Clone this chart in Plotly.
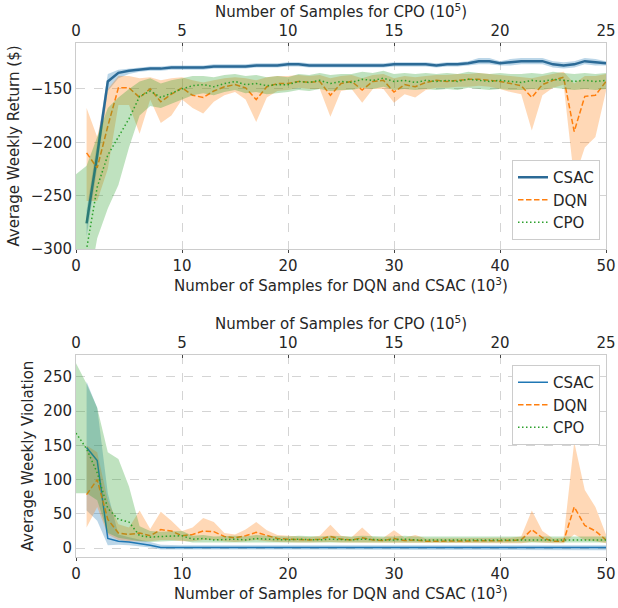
import plotly.graph_objects as go

# sample counts: DQN / CSAC in 10^3, CPO in 10^5 (top axis)
steps = list(range(1, 51))
cpo_steps = [k / 2 for k in range(0, 51)]

# ---- weekly return ----
ret_csac = [-276, -212, -143, -135, -133, -132, -131, -131, -130, -130,
            -130, -130, -129, -129, -129, -129, -128, -128, -128, -127,
            -127, -128, -128, -128, -128, -128, -128, -128, -128, -127,
            -127, -127, -127, -128, -127, -127, -126, -124, -124, -126,
            -125, -124, -124, -124, -127, -128, -127, -124, -125, -126]
ret_csac_lo = [-288, -224, -152, -140, -136, -134, -133, -133, -132, -132,
               -132, -132, -131, -131, -131, -131, -130, -130, -130, -129,
               -129, -130, -130, -130, -130, -130, -130, -130, -130, -129,
               -129, -129, -129, -130, -129, -129, -128, -127, -127, -128,
               -128, -127, -127, -127, -130, -131, -130, -127, -128, -128]
ret_csac_hi = [-264, -200, -136, -132, -131, -130, -129, -129, -128, -128,
               -128, -128, -127, -127, -127, -127, -126, -126, -126, -125,
               -125, -126, -126, -126, -126, -126, -126, -126, -126, -125,
               -125, -125, -125, -126, -125, -125, -124, -121, -121, -124,
               -122, -121, -121, -121, -124, -125, -124, -121, -122, -124]

ret_dqn = [-210, -224, -185, -149, -149, -158, -150, -162, -155, -149,
           -156, -158, -152, -148, -146, -149, -160, -148, -145, -145,
           -143, -144, -143, -156, -145, -143, -151, -143, -142, -153,
           -146, -148, -144, -142, -143, -142, -141, -141, -142, -143,
           -145, -147, -158, -146, -142, -139, -190, -157, -156, -143]
ret_dqn_lo = [-255, -255, -225, -165, -165, -192, -160, -182, -175, -160,
              -168, -173, -162, -156, -153, -160, -181, -158, -152, -151,
              -149, -150, -150, -176, -152, -150, -163, -150, -150, -163,
              -155, -158, -151, -149, -149, -148, -148, -147, -148, -150,
              -153, -155, -189, -156, -149, -146, -235, -205, -195, -152]
ret_dqn_hi = [-168, -195, -150, -138, -138, -140, -139, -142, -140, -139,
              -142, -144, -142, -140, -139, -140, -142, -139, -138, -138,
              -137, -138, -137, -140, -138, -137, -140, -137, -136, -140,
              -138, -139, -138, -137, -137, -136, -136, -135, -136, -137,
              -138, -139, -140, -138, -136, -134, -145, -138, -138, -136]

ret_cpo = [-330, -300, -242, -212, -195, -178, -157, -152, -158, -154,
           -150, -147, -146, -148, -145, -143, -146, -145, -147, -146,
           -146, -143, -144, -142, -145, -143, -144, -141, -142, -140,
           -143, -142, -144, -142, -143, -142, -143, -141, -142, -143,
           -142, -143, -144, -142, -143, -141, -142, -143, -142, -143, -142]
ret_cpo_lo = [-380, -345, -290, -262, -240, -205, -175, -166, -168, -164,
              -160, -156, -154, -156, -153, -151, -154, -153, -155, -154,
              -153, -151, -152, -150, -152, -151, -151, -149, -150, -148,
              -151, -150, -151, -150, -151, -150, -151, -149, -150, -151,
              -150, -151, -151, -150, -151, -149, -150, -151, -150, -151, -150]
ret_cpo_hi = [-230, -222, -195, -168, -158, -150, -143, -140, -145, -142,
              -140, -138, -138, -139, -137, -136, -138, -137, -139, -138,
              -139, -136, -137, -135, -137, -136, -136, -134, -135, -133,
              -136, -135, -136, -135, -136, -135, -136, -134, -135, -136,
              -135, -136, -136, -135, -136, -134, -135, -136, -135, -136, -135]

# ---- weekly violation ----
vio_csac = [147, 128, 14, 10, 9, 7, 4, 1, 1, 1,
            0, 0, 1, 0, 0, 1, 0, 0, 1, 0,
            0, 1, 0, 0, 1, 0, 0, 0, 1, 0,
            0, 1, 0, 0, 0, 1, 0, 0, 1, 0,
            1, 1, 0, 1, 0, 0, 1, 0, 0, 1]
vio_csac_lo = [55, 40, 4, 5, 4, 3, 1, -2, -3, -3,
               -3, -3, -3, -3, -3, -3, -3, -3, -3, -3,
               -3, -3, -3, -3, -3, -3, -3, -3, -3, -3,
               -3, -3, -3, -3, -3, -3, -3, -3, -3, -3,
               -3, -3, -3, -3, -3, -3, -3, -3, -3, -3]
vio_csac_hi = [243, 205, 80, 20, 16, 13, 9, 5, 4, 4,
               4, 4, 4, 4, 4, 4, 4, 4, 4, 4,
               4, 4, 4, 4, 4, 4, 4, 4, 4, 4,
               4, 4, 4, 4, 4, 4, 4, 4, 4, 4,
               5, 5, 4, 5, 4, 4, 4, 4, 4, 4]

vio_dqn = [78, 100, 42, 22, 20, 22, 18, 27, 25, 18,
           20, 25, 24, 17, 15, 18, 23, 18, 14, 13,
           12, 12, 13, 17, 13, 12, 15, 12, 11, 14,
           11, 12, 10, 10, 10, 10, 10, 10, 10, 10,
           11, 12, 27, 15, 10, 10, 60, 33, 25, 12]
vio_dqn_lo = [30, 60, 20, 12, 10, 10, 10, 12, 12, 10,
              10, 12, 12, 10, 9, 10, 12, 10, 9, 8,
              8, 8, 8, 9, 8, 8, 8, 8, 7, 8,
              7, 8, 7, 7, 7, 7, 7, 7, 7, 7,
              7, 7, 9, 8, 7, 7, 20, 12, 10, 7]
vio_dqn_hi = [150, 140, 70, 35, 30, 55, 28, 53, 40, 25,
              30, 44, 38, 22, 20, 27, 38, 26, 19, 18,
              16, 16, 18, 34, 18, 16, 30, 16, 15, 26,
              15, 19, 14, 14, 14, 14, 14, 14, 14, 14,
              15, 17, 55, 25, 14, 15, 155, 85, 60, 20]

vio_cpo = [168, 145, 110, 58, 42, 38, 18, 16, 17, 17,
           18, 13, 14, 12, 13, 13, 12, 14, 13, 12,
           12, 13, 12, 12, 13, 12, 12, 13, 12, 12,
           12, 13, 12, 12, 12, 12, 13, 12, 12, 12,
           12, 12, 13, 12, 12, 12, 12, 13, 12, 12, 12]
vio_cpo_lo = [80, 80, 70, 22, 15, 12, 10, 9, 10, 10,
              11, 8, 9, 8, 8, 8, 8, 9, 8, 8,
              8, 8, 8, 8, 8, 8, 8, 8, 8, 8,
              8, 8, 8, 8, 8, 8, 8, 8, 8, 8,
              8, 8, 8, 8, 8, 8, 8, 8, 8, 8, 8]
vio_cpo_hi = [270, 240, 205, 140, 130, 90, 32, 25, 24, 24,
              25, 18, 19, 17, 18, 18, 17, 19, 18, 17,
              17, 18, 17, 17, 18, 17, 17, 18, 17, 17,
              17, 18, 17, 17, 17, 17, 18, 17, 17, 17,
              17, 17, 18, 17, 17, 17, 17, 18, 17, 17, 17]

BLUE_TOP = '#2b6a96'
BLUE = '#1f77b4'
ORANGE = '#ff7f0e'
GREEN = '#2ca02c'
FONT = 'DejaVu Sans'
TXT = '#262626'
DASH = '5.5px,2.5px'
DOT = '1.5px,2.5px'


def band(x, lo, hi, fill, xa, ya):
    return go.Scatter(x=list(x) + list(x)[::-1], y=list(hi) + list(lo)[::-1],
                      fill='toself', fillcolor=fill, line=dict(width=0),
                      mode='lines', hoverinfo='skip', showlegend=False,
                      xaxis=xa, yaxis=ya)


fig = go.Figure()

# top panel: return
fig.add_trace(band(steps, ret_csac_lo, ret_csac_hi, 'rgba(31,119,180,0.3)', 'x', 'y'))
fig.add_trace(band(steps, ret_dqn_lo, ret_dqn_hi, 'rgba(255,127,14,0.3)', 'x', 'y'))
fig.add_trace(band(cpo_steps, ret_cpo_lo, ret_cpo_hi, 'rgba(44,160,44,0.3)', 'x2', 'y'))
fig.add_trace(go.Scatter(x=steps, y=ret_csac, name='CSAC', mode='lines',
                         line=dict(color=BLUE_TOP, width=2.5), xaxis='x', yaxis='y', legend='legend'))
fig.add_trace(go.Scatter(x=steps, y=ret_dqn, name='DQN', mode='lines',
                         line=dict(color=ORANGE, width=1.5, dash=DASH), xaxis='x', yaxis='y', legend='legend'))
fig.add_trace(go.Scatter(x=cpo_steps, y=ret_cpo, name='CPO', mode='lines',
                         line=dict(color=GREEN, width=1.5, dash=DOT), xaxis='x2', yaxis='y', legend='legend'))

# bottom panel: violation
fig.add_trace(band(steps, vio_csac_lo, vio_csac_hi, 'rgba(31,119,180,0.3)', 'x3', 'y2'))
fig.add_trace(band(steps, vio_dqn_lo, vio_dqn_hi, 'rgba(255,127,14,0.3)', 'x3', 'y2'))
fig.add_trace(band(cpo_steps, vio_cpo_lo, vio_cpo_hi, 'rgba(44,160,44,0.3)', 'x4', 'y2'))
fig.add_trace(go.Scatter(x=steps, y=vio_csac, name='CSAC', mode='lines',
                         line=dict(color=BLUE, width=1.5), xaxis='x3', yaxis='y2', legend='legend2'))
fig.add_trace(go.Scatter(x=steps, y=vio_dqn, name='DQN', mode='lines',
                         line=dict(color=ORANGE, width=1.5, dash=DASH), xaxis='x3', yaxis='y2', legend='legend2'))
fig.add_trace(go.Scatter(x=cpo_steps, y=vio_cpo, name='CPO', mode='lines',
                         line=dict(color=GREEN, width=1.5, dash=DOT), xaxis='x4', yaxis='y2', legend='legend2'))

dom_x = [76 / 618, 606 / 618]
top_y = [(608 - 249) / 608, (608 - 43) / 608]
bot_y = [(608 - 557) / 608, (608 - 355) / 608]

tickfont = dict(family=FONT, size=15, color=TXT)
titlefont = dict(family=FONT, size=15, color=TXT)
common_x = dict(showline=True, linecolor='#cccccc', linewidth=1, ticklen=3,
                tickcolor='#444444', tickfont=tickfont, zeroline=False, automargin=False)
bottom_title = dict(text='Number of Samples for DQN and CSAC (10<sup>3</sup>)', font=titlefont, standoff=2)
top_title = dict(text='Number of Samples for CPO (10<sup>5</sup>)', font=titlefont, standoff=0)
grid = dict(showgrid=True, gridcolor='#d4d4d4', griddash='dash', gridwidth=1)
common_y = dict(showline=True, mirror=True, linecolor='#cccccc', ticks='', tickfont=tickfont,
                zeroline=False, automargin=False, **grid)
legend_style = dict(x=600 / 618, xanchor='right', bgcolor='white', bordercolor='#cccccc',
                    borderwidth=1, itemwidth=30, font=dict(family=FONT, size=15, color=TXT))

fig.update_layout(
    width=618, height=608,
    margin=dict(l=0, r=0, t=0, b=0),
    plot_bgcolor='white', paper_bgcolor='white',
    font=dict(family=FONT, color=TXT),
    xaxis=dict(domain=dom_x, anchor='y', range=[0, 50], tickvals=[0, 10, 20, 30, 40, 50],
               ticks='outside', title=bottom_title, **common_x, **grid),
    xaxis2=dict(overlaying='x', anchor='y', side='top', range=[0, 25], tickvals=[0, 5, 10, 15, 20, 25],
                ticks='inside', title=top_title, showgrid=False, **common_x),
    yaxis=dict(domain=top_y, anchor='x', range=[-300, -107], tickvals=[-300, -250, -200, -150],
               ticktext=['\u2212300', '\u2212250', '\u2212200', '\u2212150'],
               title=dict(text='Average Weekly Return ($)', font=titlefont, standoff=7), **common_y),
    xaxis3=dict(domain=dom_x, anchor='y2', range=[0, 50], tickvals=[0, 10, 20, 30, 40, 50],
                ticks='outside', title=bottom_title, **common_x, **grid),
    xaxis4=dict(overlaying='x3', anchor='y2', side='top', range=[0, 25], tickvals=[0, 5, 10, 15, 20, 25],
                ticks='inside', title=top_title, showgrid=False, **common_x),
    yaxis2=dict(domain=bot_y, anchor='x3', range=[-13, 282], tickvals=[0, 50, 100, 150, 200, 250],
                title=dict(text='Average Weekly Violation', font=titlefont, standoff=6), **common_y),
    legend=dict(y=(608 - 240) / 608, yanchor='bottom', **legend_style),
    legend2=dict(y=(608 - 365) / 608, yanchor='top', **legend_style),
)

# page body has an 8px default margin; drop it so the figure fills the window
fig.write_html("out.html", config={'displayModeBar': False},
               post_script="document.body.style.margin = '0';")
